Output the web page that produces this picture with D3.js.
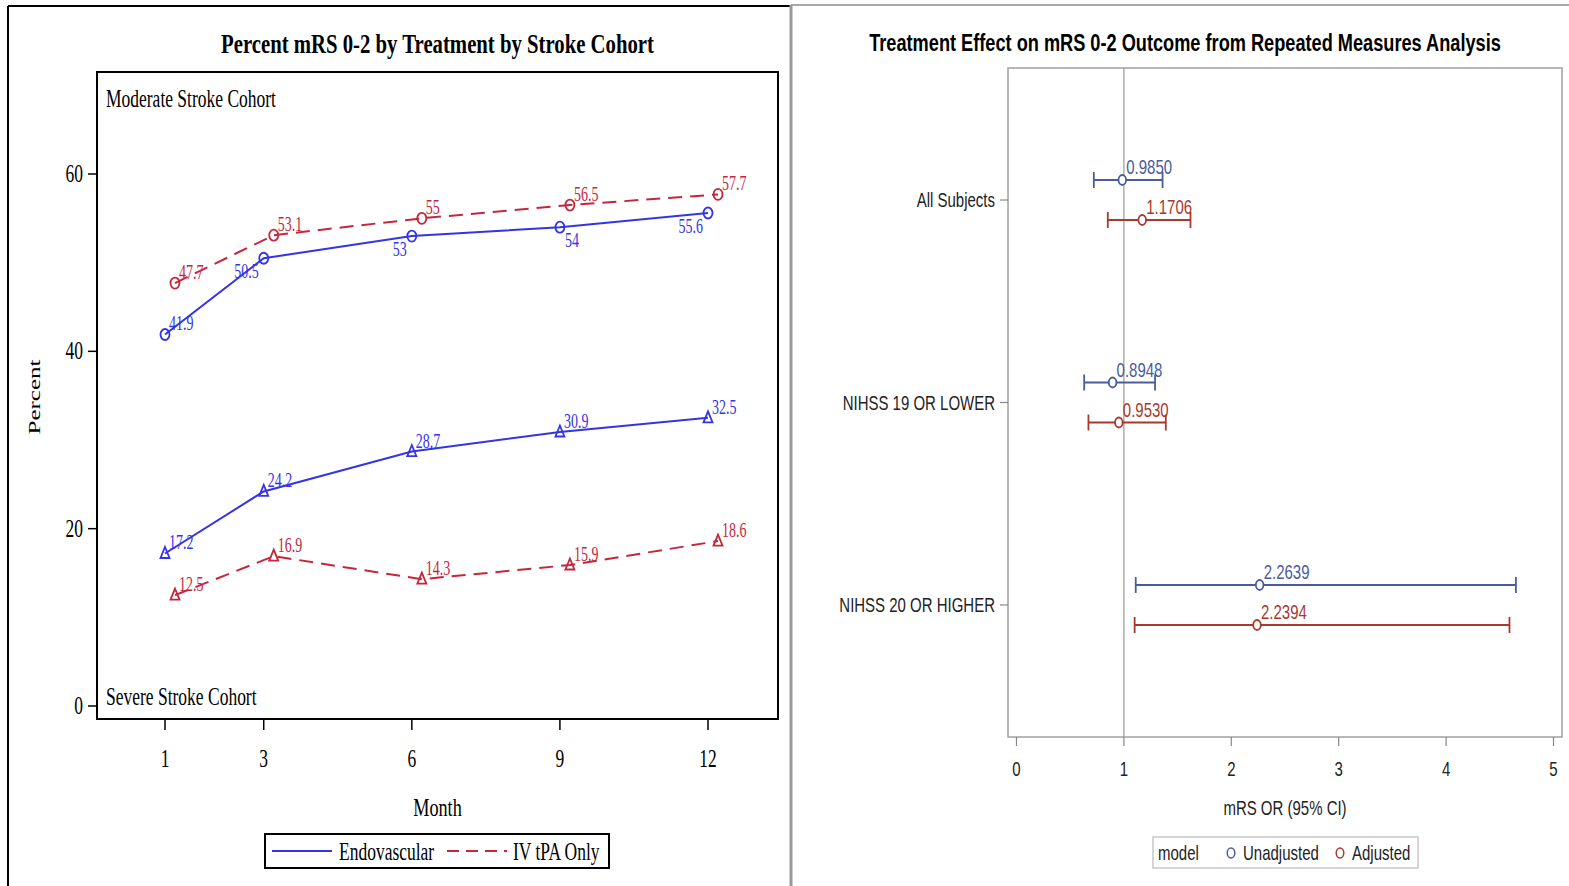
<!DOCTYPE html>
<html>
<head>
<meta charset="utf-8">
<script src="https://cdn.jsdelivr.net/npm/d3@7"></script>
<style>
  html, body { margin: 0; padding: 0; background: #fff; }
  svg { display: block; }
</style>
</head>
<body>
<svg id="chart" width="1569" height="886"></svg>
<script>
// ---- left panel data: percent mRS 0-2 ----
const months = [1, 3, 6, 9, 12];
const modEndo = [41.9, 50.5, 53, 54, 55.6];
const modTpa = [47.7, 53.1, 55, 56.5, 57.7];
const sevEndo = [17.2, 24.2, 28.7, 30.9, 32.5];
const sevTpa = [12.5, 16.9, 14.3, 15.9, 18.6];
const modEndoLabelPos = ["ne", "sw", "sw", "se", "sw"];
const percentTicks = [0, 20, 40, 60];

// ---- right panel data: odds ratios ----
const subgroups = ["All Subjects", "NIHSS 19 OR LOWER", "NIHSS 20 OR HIGHER"];
const orUnadj = [0.9850, 0.8948, 2.2639];
const lowUnadj = [0.72, 0.63, 1.11];
const highUnadj = [1.36, 1.29, 4.65];
const orAdj = [1.1706, 0.9530, 2.2394];
const lowAdj = [0.85, 0.67, 1.10];
const highAdj = [1.62, 1.39, 4.59];
const orTicks = [0, 1, 2, 3, 4, 5];

const BLUE = "#3434e6", RED = "#c4263c";
const UBLUE = "#4a5ba0", ARED = "#a8392e";
const SERIF = "'Liberation Serif', 'Times New Roman', serif";
const SANS = "'Liberation Sans', Arial, sans-serif";
const SXL = 0.7, SXR = 0.75;

const svg = d3.select("#chart");

// condensed text helper (the reference is squeezed horizontally)
function stext(g, x, y, str, o) {
    let tr = `translate(${x},${y}) scale(${o.sx},1)`;
    if (o.rot) tr += ` rotate(${o.rot})`;
    return g.append("text")
        .attr("transform", tr)
        .attr("text-anchor", o.anchor || "start")
        .attr("font-family", o.font)
        .attr("font-size", o.size)
        .attr("font-weight", o.weight || "normal")
        .attr("fill", o.color || "#000")
        .text(str);
}

// title squeezed to a target width
function fitTitle(g, cx, y, str, width, o) {
    const t = stext(g, cx, y, str, Object.assign({ sx: 1, anchor: "middle", weight: "bold" }, o));
    const w = t.node().getComputedTextLength();
    t.attr("transform", `translate(${cx},${y}) scale(${width / w},1)`);
    return t;
}

// panel borders
svg.append("line").attr("x1", 8).attr("x2", 8).attr("y1", 6).attr("y2", 886)
    .attr("stroke", "#000").attr("stroke-width", 2);
svg.append("line").attr("x1", 8).attr("x2", 791).attr("y1", 6).attr("y2", 6)
    .attr("stroke", "#000").attr("stroke-width", 2);
svg.append("line").attr("x1", 791).attr("x2", 1569).attr("y1", 5).attr("y2", 5)
    .attr("stroke", "#a8a8a8").attr("stroke-width", 2);
svg.append("line").attr("x1", 791).attr("x2", 791).attr("y1", 5).attr("y2", 886)
    .attr("stroke", "#999").attr("stroke-width", 3);

// ================= LEFT PANEL =================
const L = svg.append("g");
const fx = { l: 97, r: 778, t: 72, b: 719 };

const x = d3.scaleLinear().domain([1, 12]).range([165, 708]);
const y = d3.scaleLinear().domain([0, 60]).range([706, 174]);

fitTitle(L, 437.5, 53, "Percent mRS 0-2 by Treatment by Stroke Cohort", 433,
    { font: SERIF, size: 27 });

L.append("rect")
    .attr("x", fx.l).attr("y", fx.t).attr("width", fx.r - fx.l).attr("height", fx.b - fx.t)
    .attr("fill", "none").attr("stroke", "#000").attr("stroke-width", 2);

// y axis
const yAxis = L.append("g");
percentTicks.forEach(v => {
    yAxis.append("line").attr("x1", 88).attr("x2", fx.l).attr("y1", y(v)).attr("y2", y(v))
        .attr("stroke", "#000").attr("stroke-width", 1.5);
    stext(yAxis, 83, y(v) + 8, String(v), { sx: SXL, anchor: "end", font: SERIF, size: 25 });
});
stext(L, 40, 397, "Percent", { sx: SXL, anchor: "middle", font: SERIF, size: 25, rot: -90 });

// x axis
months.forEach(m => {
    L.append("line").attr("x1", x(m)).attr("x2", x(m)).attr("y1", fx.b).attr("y2", fx.b + 11)
        .attr("stroke", "#000").attr("stroke-width", 1.5);
    stext(L, x(m), 767, String(m), { sx: SXL, anchor: "middle", font: SERIF, size: 25 });
});
stext(L, 437.5, 816, "Month", { sx: SXL, anchor: "middle", font: SERIF, size: 26 });

stext(L, 106, 107, "Moderate Stroke Cohort", { sx: SXL, font: SERIF, size: 25 });
stext(L, 106, 705, "Severe Stroke Cohort", { sx: SXL, font: SERIF, size: 25 });

const series = [
    { vals: modEndo, color: BLUE, dash: null, dodge: 0, marker: "circle", pos: modEndoLabelPos },
    { vals: modTpa, color: RED, dash: "14,8", dodge: 10, marker: "circle" },
    { vals: sevEndo, color: BLUE, dash: null, dodge: 0, marker: "triangle" },
    { vals: sevTpa, color: RED, dash: "14,8", dodge: 10, marker: "triangle" }
];

const line = d3.line();
series.forEach(s => {
    const pts = s.vals.map((v, i) => [x(months[i]) + s.dodge, y(v)]);
    L.append("path").attr("d", line(pts))
        .attr("fill", "none").attr("stroke", s.color).attr("stroke-width", 2)
        .attr("stroke-dasharray", s.dash);
    pts.forEach((p, i) => {
        if (s.marker === "circle") {
            L.append("ellipse").attr("cx", p[0]).attr("cy", p[1]).attr("rx", 4.5).attr("ry", 5.5)
                .attr("fill", "none").attr("stroke", s.color).attr("stroke-width", 1.8);
        } else {
            L.append("path")
                .attr("d", `M${p[0]},${p[1] - 6.5}L${p[0] + 4.5},${p[1] + 4.5}L${p[0] - 4.5},${p[1] + 4.5}Z`)
                .attr("fill", "none").attr("stroke", s.color).attr("stroke-width", 1.8);
        }
        const pos = s.pos ? s.pos[i] : "ne";
        let lx = p[0] + 4, ly = p[1] - 4, anchor = "start";
        if (pos === "sw") { lx = p[0] - 5; ly = p[1] + 20; anchor = "end"; }
        if (pos === "se") { lx = p[0] + 5; ly = p[1] + 20; }
        stext(L, lx, ly, String(s.vals[i]), { sx: SXL, anchor, font: SERIF, size: 20, color: s.color });
    });
});

// legend
const lg = L.append("g");
lg.append("rect").attr("x", 265).attr("y", 834).attr("width", 344).attr("height", 34)
    .attr("fill", "#fff").attr("stroke", "#000").attr("stroke-width", 2);
lg.append("line").attr("x1", 272).attr("x2", 332).attr("y1", 851).attr("y2", 851)
    .attr("stroke", BLUE).attr("stroke-width", 2);
stext(lg, 339, 860, "Endovascular", { sx: SXL, font: SERIF, size: 25 });
lg.append("line").attr("x1", 447).attr("x2", 507).attr("y1", 851).attr("y2", 851)
    .attr("stroke", RED).attr("stroke-width", 2).attr("stroke-dasharray", "12,7");
stext(lg, 513, 860, "IV tPA Only", { sx: SXL, font: SERIF, size: 25 });

// ================= RIGHT PANEL =================
const R = svg.append("g");
const rf = { l: 1008, r: 1562, t: 68, b: 737 };
const xo = d3.scaleLinear().domain([0, 5]).range([1016.5, 1553.5]);
const yc = d3.scalePoint().domain(subgroups).range([rf.t, rf.b]).padding(0.652);

fitTitle(R, 1185, 51, "Treatment Effect on mRS 0-2 Outcome from Repeated Measures Analysis", 632,
    { font: SANS, size: 24 });

R.append("rect")
    .attr("x", rf.l).attr("y", rf.t).attr("width", rf.r - rf.l).attr("height", rf.b - rf.t)
    .attr("fill", "none").attr("stroke", "#a0a0a0").attr("stroke-width", 1.5);

// reference line at OR = 1
R.append("line").attr("x1", xo(1)).attr("x2", xo(1)).attr("y1", rf.t).attr("y2", rf.b)
    .attr("stroke", "#999").attr("stroke-width", 1.2);

// x axis
orTicks.forEach(v => {
    R.append("line").attr("x1", xo(v)).attr("x2", xo(v)).attr("y1", rf.b).attr("y2", rf.b + 9)
        .attr("stroke", "#888").attr("stroke-width", 1.2);
    stext(R, xo(v), 776, String(v), { sx: SXR, anchor: "middle", font: SANS, size: 20, color: "#222" });
});
stext(R, (rf.l + rf.r) / 2, 815, "mRS OR (95% CI)", { sx: SXR, anchor: "middle", font: SANS, size: 20, color: "#222" });

// y axis
subgroups.forEach(c => {
    R.append("line").attr("x1", 1000).attr("x2", rf.l).attr("y1", yc(c)).attr("y2", yc(c))
        .attr("stroke", "#888").attr("stroke-width", 1.2);
    stext(R, 995, yc(c) + 7, c, { sx: SXR, anchor: "end", font: SANS, size: 20, color: "#222" });
});

const models = [
    { est: orUnadj, lo: lowUnadj, hi: highUnadj, color: UBLUE, dy: -20 },
    { est: orAdj, lo: lowAdj, hi: highAdj, color: ARED, dy: 20 }
];
models.forEach(m => {
    subgroups.forEach((c, i) => {
        const cy = yc(c) + m.dy;
        const g = R.append("g").attr("stroke", m.color).attr("stroke-width", 1.8);
        g.append("line").attr("x1", xo(m.lo[i])).attr("x2", xo(m.hi[i])).attr("y1", cy).attr("y2", cy);
        g.append("line").attr("x1", xo(m.lo[i])).attr("x2", xo(m.lo[i])).attr("y1", cy - 8).attr("y2", cy + 8);
        g.append("line").attr("x1", xo(m.hi[i])).attr("x2", xo(m.hi[i])).attr("y1", cy - 8).attr("y2", cy + 8);
        g.append("ellipse").attr("cx", xo(m.est[i])).attr("cy", cy).attr("rx", 3.8).attr("ry", 5)
            .attr("fill", "#fff");
        stext(R, xo(m.est[i]) + 4, cy - 6, m.est[i].toFixed(4),
            { sx: SXR, font: SANS, size: 20, color: m.color });
    });
});

// legend
const rl = R.append("g");
rl.append("rect").attr("x", 1153).attr("y", 837).attr("width", 265).attr("height", 31)
    .attr("fill", "#fff").attr("stroke", "#c8c8c8").attr("stroke-width", 1.5);
stext(rl, 1158, 860, "model", { sx: SXR, font: SANS, size: 20, color: "#222" });
rl.append("ellipse").attr("cx", 1231).attr("cy", 853).attr("rx", 3.8).attr("ry", 5)
    .attr("fill", "none").attr("stroke", UBLUE).attr("stroke-width", 1.5);
stext(rl, 1243, 860, "Unadjusted", { sx: SXR, font: SANS, size: 20, color: "#222" });
rl.append("ellipse").attr("cx", 1340).attr("cy", 853).attr("rx", 3.8).attr("ry", 5)
    .attr("fill", "none").attr("stroke", ARED).attr("stroke-width", 1.5);
stext(rl, 1352, 860, "Adjusted", { sx: SXR, font: SANS, size: 20, color: "#222" });
</script>
</body>
</html>
